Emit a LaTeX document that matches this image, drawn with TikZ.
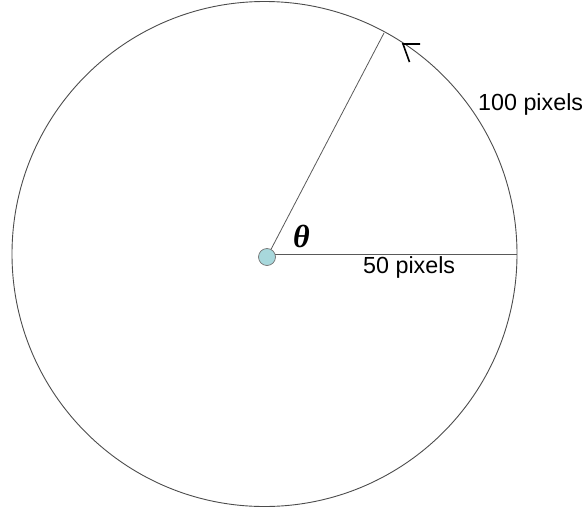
\documentclass[tikz,border=0pt]{standalone}
\usepackage{fontspec}
\setmainfont{Liberation Sans}
\newfontfamily\grserif{Liberation Serif}
\definecolor{dotfill}{HTML}{A8D8DC}
\begin{document}
\begin{tikzpicture}[x=1pt,y=-1pt,
  rim/.style={draw=black!70, line width=0.9pt},
  spoke/.style={draw=black!65, line width=0.8pt},
  dot/.style={circle, draw=black!55, fill=dotfill, line width=0.7pt, minimum size=17pt, inner sep=0pt},
  lbl/.style={font=\fontsize{23.3}{26}\selectfont, inner sep=0pt, anchor=base west},
  headarm/.style={draw=black, line width=1.6pt}]
\useasboundingbox (0,0) rectangle (584,512);
\coordinate (c) at (264.5,254);
\coordinate (oc) at (267,257);
\coordinate (e) at (517,254);
\coordinate (t) at (384,33);
\coordinate (tip) at (403,44);
\coordinate (a1) at (420,44);
\coordinate (a2) at (409.5,62);
\draw[rim] (c) circle[radius=252.5pt];
\draw[spoke] (oc |- e) -- (e);
\draw[spoke] (oc) -- (t);
\node[dot] (o) at (oc) {};
\draw[headarm] (a1) -- (tip) -- (a2);
\node[font=\fontsize{32}{34}\selectfont\grserif\bfseries\itshape, inner sep=0pt] (th) at (301.5,236) {θ};
\node[lbl] (l50) at (363,273) {50 pixels};
\node[lbl] (l100) at (478,110) {100 pixels};
\end{tikzpicture}
\end{document}
